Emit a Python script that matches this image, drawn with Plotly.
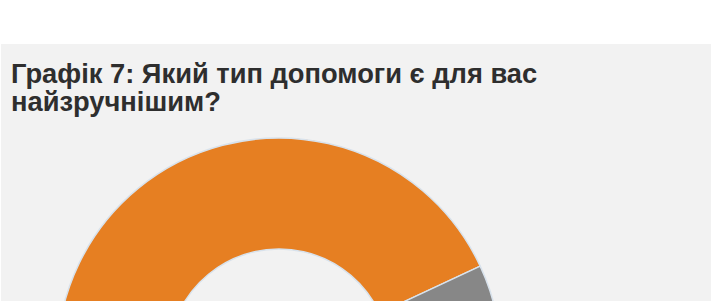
import plotly.graph_objects as go

# Data (only the orange and grey slices are visible in the cropped reference)
categories = ["Грошова допомога", "Натуральна допомога", "Інше"]
values = [58, 15, 27]
colors = ["#E67F22", "#878787", "#5B9BD5"]
title_lines = ["Графік 7: Який тип допомоги є для вас", "найзручнішим?"]

W, H = 711, 600
cx, cy, r = 279, 360, 222

fig = go.Figure()
fig.add_trace(go.Pie(
    labels=categories, values=values, hole=0.5, sort=False,
    direction="clockwise", rotation=65 - 360 * values[0] / sum(values),
    marker=dict(colors=colors, line=dict(color="#D8E2EC", width=1.5)),
    textinfo="none", hoverinfo="label+percent", showlegend=False,
    domain=dict(x=[(cx - r) / W, (cx + r) / W],
                y=[(H - cy - r) / H, (H - cy + r) / H]),
))

title_font = dict(family="Liberation Sans, Arial, sans-serif", size=27.3, color="#2E2E2E")
ann = []
for i, line in enumerate(title_lines):
    ann.append(dict(text="<b>" + line + "</b>", xref="paper", yref="paper",
                    x=9 / W, y=(H - (73.8 + 27.5 * i)) / H,
                    xanchor="left", yanchor="middle", showarrow=False, font=title_font))

fig.update_layout(
    width=W, height=H, margin=dict(l=0, r=0, t=0, b=0), paper_bgcolor="white",
    shapes=[dict(type="rect", xref="paper", yref="paper", x0=1 / W, x1=1, y0=0, y1=(H - 44) / H,
                 fillcolor="#F2F2F2", line=dict(width=0), layer="below")],
    annotations=ann,
)
fig.write_html("out.html", config={"displayModeBar": False},
               post_script="document.body.style.margin='0';")
